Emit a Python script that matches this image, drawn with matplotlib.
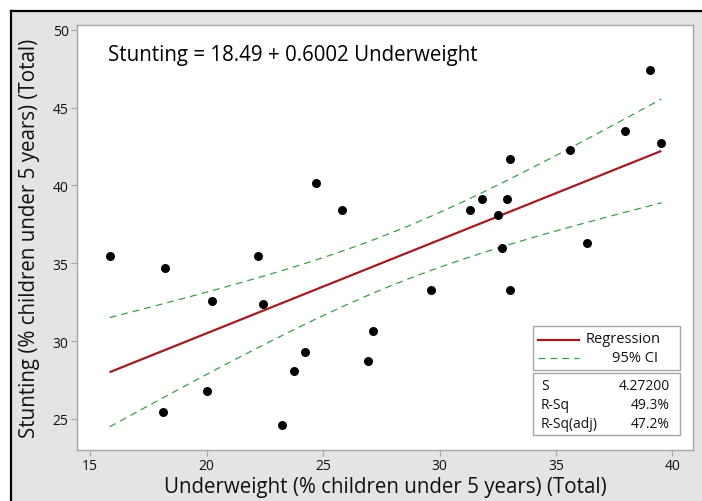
import numpy as np
import matplotlib
matplotlib.use("Agg")
import matplotlib.pyplot as plt
from matplotlib.lines import Line2D
from matplotlib.patches import Rectangle

# ---- data ----
underweight = [15.84, 18.21, 18.11, 20.24, 20.02, 22.22, 22.42, 24.71, 25.82,
               24.21, 23.74, 23.23, 27.13, 26.92, 29.63, 31.31, 31.82, 32.53,
               32.90, 32.70, 33.03, 33.03, 35.62, 36.34, 37.96, 39.05, 39.52]
stunting = [35.48, 34.66, 25.46, 32.55, 26.79, 35.48, 32.39, 40.13, 38.41,
            29.29, 28.06, 24.58, 30.62, 28.71, 33.26, 38.41, 39.12, 38.08,
            39.12, 36.00, 41.72, 33.28, 42.28, 36.32, 43.48, 47.42, 42.71]
intercept = 18.49
slope = 0.6002
s_value = 4.27200
t_crit = 2.060
title_text = "Stunting = 18.49 + 0.6002 Underweight"
x_label = "Underweight (% children under 5 years) (Total)"
y_label = "Stunting (% children under 5 years) (Total)"
x_ticks = [15, 20, 25, 30, 35, 40]
y_ticks = [25, 30, 35, 40, 45, 50]
stats_names = ["S", "R-Sq", "R-Sq(adj)"]
stats_values = ["4.27200", "49.3%", "47.2%"]
legend_labels = ["Regression", "95% CI"]

plt.rcParams['font.family'] = ['Open Sans', 'DejaVu Sans']

W, H = 702, 502
fig = plt.figure(figsize=(W / 100, H / 100), dpi=100)
fig.patch.set_facecolor('white')

def fx(px):
    return px / W

def fy(py):
    return 1 - py / H

# grey background panel with black frame (top and left visible)
fig.patches.append(Rectangle((fx(11), 0), 1 - fx(11), fy(12), transform=fig.transFigure,
                             facecolor='#e4e4e4', edgecolor='none', zorder=-10))
fig.lines.append(Line2D([fx(11), fx(11)], [0, fy(12)], transform=fig.transFigure,
                        color='black', lw=1.6, zorder=-9))
fig.lines.append(Line2D([fx(11), 1], [fy(12), fy(12)], transform=fig.transFigure,
                        color='black', lw=1.6, zorder=-9))

# axes
L, R, T, B = 77, 693, 26, 451
ax = fig.add_axes([fx(L), fy(B), fx(R) - fx(L), fy(T) - fy(B)])
ax.set_zorder(1)
ax.set_facecolor('white')
for sp in ax.spines.values():
    sp.set_color('#a6a6a6')
    sp.set_linewidth(1.0)

x = np.array(underweight)
y = np.array(stunting)
n = len(x)
xbar = x.mean()
sxx = ((x - xbar) ** 2).sum()
xs = np.linspace(x.min(), x.max(), 200)
yhat = intercept + slope * xs
half = t_crit * s_value * np.sqrt(1 / n + (xs - xbar) ** 2 / sxx)

ax.plot(xs, yhat, color='#a11d22', lw=1.6, solid_capstyle='butt', zorder=3)
ax.plot(xs, yhat + half, color='#3d9e4a', lw=0.9, dashes=(5.5, 4), zorder=3)
ax.plot(xs, yhat - half, color='#3d9e4a', lw=0.9, dashes=(5.5, 4), zorder=3)
ax.scatter(x, y, s=42, color='black', zorder=4, linewidths=0)

ax.set_xlim(14.44, 40.88)
ax.set_ylim(23.0, 50.3)
ax.set_xticks(x_ticks)
ax.set_yticks(y_ticks)
ax.tick_params(axis='both', direction='out', length=4, width=0.8, color='#a6a6a6',
               labelsize=10, labelcolor='#111111', pad=2)

ax.text(0.05, 0.93, title_text, transform=ax.transAxes, fontsize=14.8,
        color='#000000', va='center', ha='left')

fig.text(fx(385), fy(488), x_label, fontsize=14.8, color='#111111', ha='center', va='center')
fig.text(fx(30), fy(238), y_label, fontsize=14.8, color='#111111', ha='center', va='center',
         rotation=90)

# legend box
fig.patches.append(Rectangle((fx(533), fy(371)), fx(680) - fx(533), fy(327) - fy(371),
                             transform=fig.transFigure, facecolor='white',
                             edgecolor='#a6a6a6', lw=1.0, zorder=5))
fig.lines.append(Line2D([fx(538), fx(579)], [fy(341), fy(341)], transform=fig.transFigure,
                        color='#a11d22', lw=1.6, zorder=6))
fig.lines.append(Line2D([fx(538), fx(579)], [fy(359), fy(359)], transform=fig.transFigure,
                        color='#3d9e4a', lw=0.9, dashes=(5.5, 4), zorder=6))
fig.text(fx(586), fy(340), legend_labels[0], fontsize=10.5, color='#111111',
         ha='left', va='center', zorder=7)
fig.text(fx(658), fy(358), legend_labels[1], fontsize=10.5, color='#111111',
         ha='right', va='center', zorder=7)

# stats box
fig.patches.append(Rectangle((fx(533), fy(436)), fx(680) - fx(533), fy(374) - fy(436),
                             transform=fig.transFigure, facecolor='white',
                             edgecolor='#a6a6a6', lw=1.0, zorder=5))
for i, (nm, val) in enumerate(zip(stats_names, stats_values)):
    yy = 387 + i * 19
    fig.text(fx(541), fy(yy), nm, fontsize=10, color='#111111', ha='left', va='center', zorder=7)
    fig.text(fx(670), fy(yy), val, fontsize=10, color='#111111', ha='right', va='center', zorder=7)

fig.savefig('out.png', dpi=100)
